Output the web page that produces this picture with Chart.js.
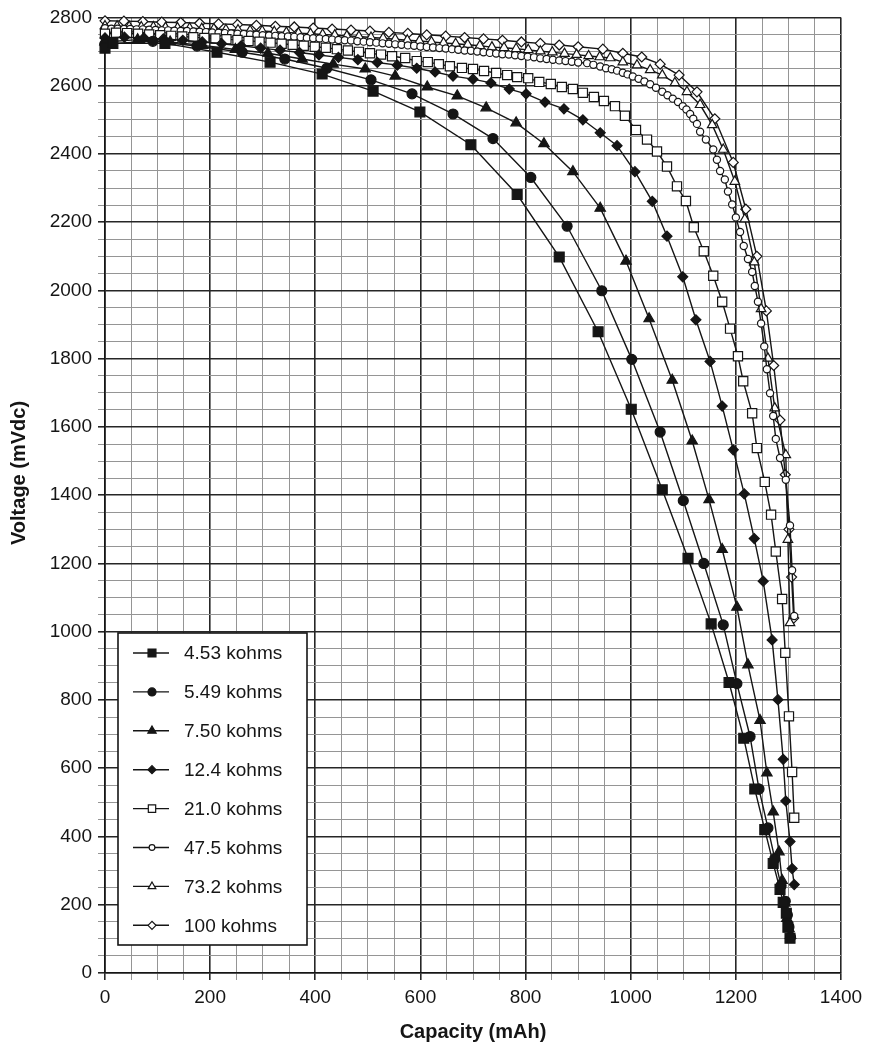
<!DOCTYPE html>
<html>
<head>
<meta charset="utf-8">
<script src="https://cdn.jsdelivr.net/npm/chart.js@4.4.1/dist/chart.umd.min.js"></script>
<style>
  html, body { margin: 0; padding: 0; background: #fff; }
  #wrap { width: 879px; height: 1050px; }
</style>
</head>
<body>
<div id="wrap"><canvas id="myChart" width="879" height="1050"></canvas></div>
<script>
// load resistances shown in the legend
const seriesLabels = ['4.53 kohms', '5.49 kohms', '7.50 kohms', '12.4 kohms',
                      '21.0 kohms', '47.5 kohms', '73.2 kohms', '100 kohms'];

// capacity (mAh) / voltage (mVdc)
const cap453 = [0, 15, 114, 213, 314, 413, 510, 599, 696, 784, 864, 938, 1001, 1060, 1109, 1153, 1187, 1215, 1236, 1255, 1271, 1284, 1290, 1296, 1299, 1303];
const mv453 = [2710, 2724, 2724, 2698, 2669, 2634, 2584, 2523, 2427, 2281, 2098, 1879, 1652, 1416, 1215, 1023, 851, 688, 539, 420, 321, 245, 207, 175, 134, 102];

const cap549 = [0, 91, 175, 261, 342, 422, 506, 584, 662, 738, 810, 879, 945, 1002, 1056, 1100, 1139, 1176, 1202, 1227, 1244, 1261, 1274, 1286, 1294, 1298, 1301, 1304];
const mv549 = [2722, 2730, 2716, 2698, 2678, 2651, 2617, 2576, 2517, 2445, 2331, 2188, 1999, 1798, 1585, 1384, 1200, 1020, 848, 693, 539, 425, 335, 256, 210, 170, 135, 105];

const cap750 = [0, 62, 124, 186, 248, 310, 375, 434, 495, 552, 613, 670, 725, 782, 835, 890, 942, 991, 1035, 1079, 1117, 1149, 1174, 1202, 1223, 1246, 1259, 1271, 1282, 1288, 1293, 1297, 1301, 1304];
const mv750 = [2728, 2735, 2728, 2718, 2706, 2695, 2678, 2663, 2649, 2628, 2596, 2570, 2535, 2491, 2430, 2348, 2241, 2086, 1917, 1737, 1559, 1387, 1241, 1072, 903, 740, 586, 472, 355, 271, 205, 160, 130, 110];

const cap124 = [0, 37, 74, 111, 148, 185, 222, 259, 296, 333, 370, 407, 444, 481, 518, 556, 593, 628, 662, 700, 734, 769, 801, 837, 873, 909, 942, 974, 1008, 1041, 1069, 1099, 1124, 1151, 1174, 1195, 1216, 1235, 1252, 1269, 1280, 1290, 1295, 1303, 1307, 1311];
const mv124 = [2740, 2742, 2740, 2737, 2733, 2728, 2723, 2717, 2710, 2704, 2697, 2690, 2683, 2676, 2668, 2660, 2651, 2640, 2628, 2619, 2608, 2590, 2576, 2552, 2532, 2500, 2462, 2424, 2348, 2261, 2159, 2040, 1914, 1792, 1661, 1533, 1404, 1273, 1148, 976, 801, 626, 504, 385, 306, 259];

const cap210 = [0, 21, 42, 63, 84, 105, 126, 147, 168, 189, 210, 231, 252, 273, 294, 315, 336, 357, 378, 399, 420, 441, 462, 483, 504, 525, 546, 571, 593, 614, 635, 656, 679, 700, 721, 744, 765, 784, 805, 826, 848, 869, 890, 909, 930, 949, 970, 989, 1010, 1031, 1050, 1069, 1088, 1105, 1120, 1139, 1157, 1174, 1189, 1204, 1214, 1231, 1240, 1255, 1267, 1276, 1288, 1294, 1301, 1307, 1311];
const mv210 = [2752, 2755, 2754, 2752, 2750, 2748, 2746, 2744, 2742, 2740, 2738, 2736, 2734, 2731, 2729, 2726, 2723, 2720, 2717, 2714, 2711, 2707, 2703, 2699, 2695, 2691, 2686, 2681, 2672, 2669, 2663, 2657, 2652, 2649, 2643, 2637, 2631, 2625, 2622, 2611, 2605, 2596, 2590, 2579, 2567, 2555, 2540, 2512, 2470, 2442, 2407, 2363, 2305, 2262, 2185, 2115, 2043, 1967, 1888, 1807, 1734, 1640, 1538, 1439, 1343, 1235, 1096, 938, 752, 589, 455];

const cap475 = [0, 12, 24, 36, 48, 60, 72, 84, 96, 108, 120, 132, 144, 156, 168, 180, 192, 204, 216, 228, 240, 252, 264, 276, 288, 300, 312, 324, 336, 348, 360, 372, 384, 396, 408, 420, 432, 444, 456, 468, 480, 492, 504, 516, 528, 540, 552, 564, 576, 588, 600, 612, 624, 636, 648, 660, 672, 684, 696, 708, 720, 732, 744, 756, 768, 780, 792, 804, 816, 828, 840, 852, 864, 876, 888, 900, 917, 929, 942, 953, 964, 974, 985, 994, 1004, 1015, 1026, 1037, 1048, 1060, 1070, 1080, 1090, 1099, 1106, 1113, 1119, 1126, 1132, 1143, 1157, 1164, 1170, 1179, 1185, 1193, 1200, 1208, 1215, 1223, 1231, 1236, 1242, 1248, 1254, 1259, 1265, 1271, 1276, 1284, 1295, 1303, 1307, 1311];
const mv475 = [2768, 2767, 2767, 2766, 2766, 2765, 2765, 2764, 2763, 2762, 2762, 2761, 2760, 2760, 2759, 2758, 2757, 2756, 2755, 2754, 2753, 2752, 2751, 2750, 2749, 2748, 2747, 2746, 2745, 2744, 2743, 2742, 2740, 2739, 2738, 2737, 2735, 2734, 2733, 2732, 2730, 2729, 2727, 2726, 2724, 2723, 2721, 2720, 2718, 2717, 2715, 2713, 2712, 2710, 2709, 2707, 2705, 2703, 2702, 2700, 2698, 2696, 2694, 2692, 2691, 2689, 2687, 2685, 2683, 2680, 2678, 2676, 2674, 2672, 2670, 2668, 2666, 2661, 2656, 2651, 2648, 2644, 2638, 2633, 2627, 2620, 2612, 2604, 2594, 2582, 2572, 2562, 2552, 2540, 2530, 2517, 2503, 2488, 2465, 2442, 2413, 2383, 2350, 2325, 2290, 2252, 2214, 2171, 2130, 2092, 2054, 2013, 1967, 1903, 1836, 1769, 1699, 1632, 1565, 1509, 1445, 1311, 1180, 1046];

const cap732 = [0, 23, 46, 69, 92, 115, 138, 161, 184, 207, 230, 253, 276, 299, 322, 345, 368, 391, 414, 437, 460, 483, 506, 529, 552, 575, 598, 621, 644, 667, 690, 713, 736, 759, 782, 805, 828, 851, 874, 897, 920, 941, 961, 985, 1012, 1037, 1060, 1084, 1107, 1132, 1155, 1176, 1198, 1217, 1235, 1248, 1261, 1274, 1295, 1299, 1303];
const mv732 = [2775, 2774, 2773, 2772, 2772, 2770, 2769, 2768, 2767, 2766, 2764, 2763, 2761, 2760, 2758, 2756, 2754, 2752, 2750, 2748, 2746, 2744, 2741, 2739, 2736, 2733, 2731, 2728, 2725, 2723, 2720, 2717, 2713, 2711, 2708, 2705, 2701, 2698, 2694, 2691, 2687, 2684, 2681, 2669, 2660, 2646, 2631, 2608, 2582, 2544, 2485, 2413, 2319, 2209, 2083, 1946, 1801, 1655, 1518, 1270, 1026];

const cap100 = [0, 36, 72, 108, 144, 180, 216, 252, 288, 324, 360, 396, 432, 468, 504, 540, 576, 612, 648, 684, 720, 756, 792, 828, 864, 900, 947, 985, 1021, 1056, 1092, 1126, 1160, 1195, 1219, 1240, 1258, 1272, 1284, 1294, 1301, 1306, 1310];
const mv100 = [2790, 2789, 2788, 2786, 2785, 2783, 2781, 2779, 2777, 2774, 2772, 2769, 2766, 2763, 2760, 2756, 2753, 2749, 2745, 2741, 2737, 2733, 2728, 2724, 2719, 2714, 2707, 2695, 2684, 2663, 2631, 2582, 2503, 2375, 2238, 2100, 1940, 1780, 1620, 1460, 1300, 1160, 1040];

// axis ranges and tick labels
const xTickLabels = [0, 200, 400, 600, 800, 1000, 1200, 1400];
const yTickLabels = [0, 200, 400, 600, 800, 1000, 1200, 1400, 1600, 1800, 2000, 2200, 2400, 2600, 2800];

const capacities = [cap453, cap549, cap750, cap124, cap210, cap475, cap732, cap100];
const voltages = [mv453, mv549, mv750, mv124, mv210, mv475, mv732, mv100];

const INK = '#151515';
const markerStyles = [
    { pointStyle: 'rect', radius: 7, fill: INK },
    { pointStyle: 'circle', radius: 5, fill: INK },
    { pointStyle: 'triangle', radius: 6, fill: INK },
    { pointStyle: 'rectRot', radius: 5, fill: INK },
    { pointStyle: 'rect', radius: 6.5, fill: '#fff' },
    { pointStyle: 'circle', radius: 3.6, fill: '#fff' },
    { pointStyle: 'triangle', radius: 5.5, fill: '#fff' },
    { pointStyle: 'rectRot', radius: 5, fill: '#fff' }
];

const datasets = seriesLabels.map((label, i) => ({
    label: label,
    data: capacities[i].map((c, j) => ({ x: c, y: voltages[i][j] })),
    showLine: true,
    borderColor: INK,
    borderWidth: 1.4,
    pointStyle: markerStyles[i].pointStyle,
    pointRadius: markerStyles[i].radius,
    pointBackgroundColor: markerStyles[i].fill,
    pointBorderColor: INK,
    pointBorderWidth: 1.2,
    clip: false
}));

function drawMarker(ctx, style, x, y, r) {
    ctx.fillStyle = style.fill;
    ctx.strokeStyle = INK;
    ctx.lineWidth = 1.2;
    Chart.helpers.drawPoint(ctx, { pointStyle: style.pointStyle, radius: r, rotation: 0, borderWidth: 1.2 }, x, y);
}

// legend box sitting inside the plot, lower left
const legendBox = {
    id: 'legendBox',
    afterDatasetsDraw(chart) {
        const ctx = chart.ctx;
        const area = chart.chartArea;
        const left = area.left + 13;
        const top = area.bottom - 340;
        const w = 189, h = 312, step = 38.9;
        ctx.save();
        ctx.fillStyle = '#fff';
        ctx.fillRect(left, top, w, h);
        ctx.strokeStyle = INK;
        ctx.lineWidth = 1.6;
        ctx.strokeRect(left, top, w, h);
        ctx.font = '19px "Liberation Sans", Arial, sans-serif';
        ctx.textBaseline = 'middle';
        ctx.textAlign = 'left';
        seriesLabels.forEach((label, i) => {
            const y = top + 20 + i * step;
            ctx.strokeStyle = INK;
            ctx.lineWidth = 1.4;
            ctx.beginPath();
            ctx.moveTo(left + 15, y);
            ctx.lineTo(left + 51, y);
            ctx.stroke();
            drawMarker(ctx, markerStyles[i], left + 34, y, markerStyles[i].radius * 0.8);
            ctx.fillStyle = INK;
            ctx.fillText(label, left + 66, y + 1);
        });
        ctx.restore();
    }
};

const isMajor = (v) => v % 200 === 0;
const gridColor = (c) => isMajor(c.tick.value) ? '#262626' : '#959595';
const gridWidth = (c) => isMajor(c.tick.value) ? 1.6 : 1;

var ctx = document.getElementById('myChart').getContext('2d');
var myChart = new Chart(ctx, {
    type: 'scatter',
    data: { datasets: datasets },
    options: {
        responsive: false,
        animation: false,
        layout: { padding: { top: 12, right: 38, left: 0, bottom: 0 } },
        plugins: {
            legend: { display: false },
            tooltip: { enabled: false }
        },
        scales: {
            x: {
                type: 'linear',
                min: xTickLabels[0],
                max: xTickLabels[xTickLabels.length - 1],
                afterFit: (s) => { s.height = 77; },
                ticks: {
                    stepSize: 50,
                    autoSkip: false,
                    maxRotation: 0,
                    padding: 6,
                    color: INK,
                    font: { family: '"Liberation Sans", Arial, sans-serif', size: 19 },
                    callback: (v) => xTickLabels.includes(v) ? String(v) : ''
                },
                grid: { color: gridColor, lineWidth: gridWidth, tickColor: gridColor, tickLength: 7 },
                border: { color: INK, width: 1.6 },
                title: {
                    display: true,
                    text: 'Capacity (mAh)',
                    color: INK,
                    padding: { top: 0, bottom: 6 },
                    font: { family: '"Liberation Sans", Arial, sans-serif', size: 20, weight: 'bold' }
                }
            },
            y: {
                type: 'linear',
                min: yTickLabels[0],
                max: yTickLabels[yTickLabels.length - 1],
                afterFit: (s) => { s.width = 105; },
                ticks: {
                    stepSize: 50,
                    autoSkip: false,
                    padding: 6,
                    color: INK,
                    font: { family: '"Liberation Sans", Arial, sans-serif', size: 19 },
                    callback: (v) => yTickLabels.includes(v) ? String(v) : ''
                },
                grid: { color: gridColor, lineWidth: gridWidth, tickColor: gridColor, tickLength: 7 },
                border: { color: INK, width: 1.6 },
                title: {
                    display: true,
                    // leading spaces nudge the rotated title a little above centre, as in the original
                    text: '        Voltage (mVdc)',
                    color: INK,
                    padding: { top: 7, bottom: 0 },
                    font: { family: '"Liberation Sans", Arial, sans-serif', size: 20, weight: 'bold' }
                }
            }
        }
    },
    plugins: [legendBox]
});
</script>
</body>
</html>
